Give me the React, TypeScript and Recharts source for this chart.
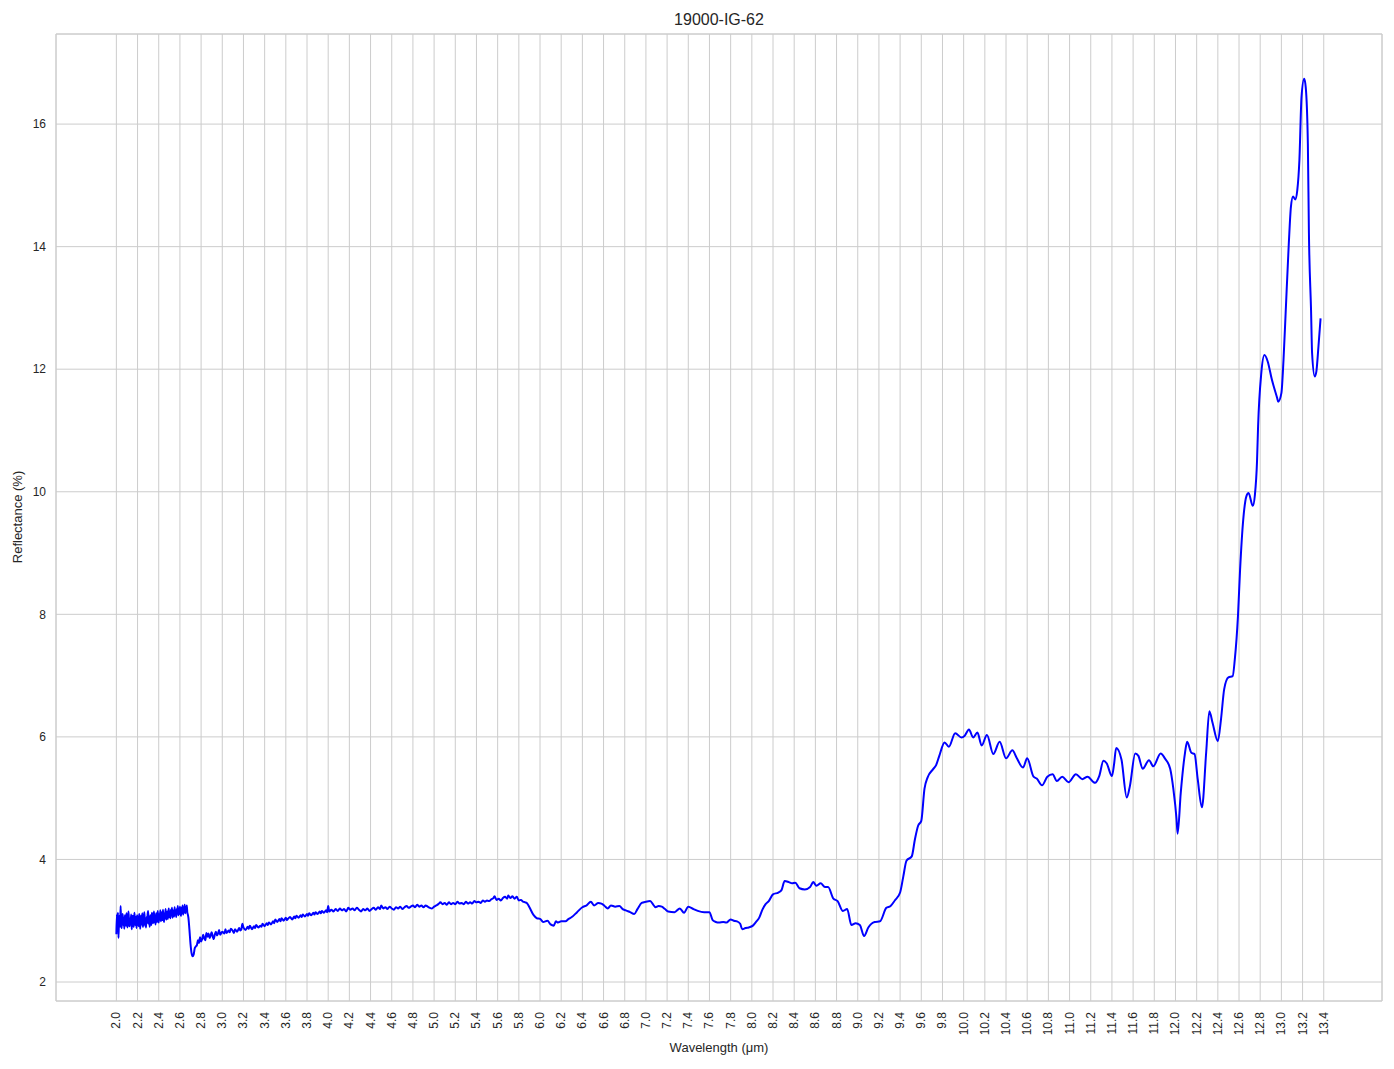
import React from 'react';
import { LineChart, Line, XAxis, YAxis, CartesianGrid, ReferenceArea } from 'recharts';

const TITLE = '19000-IG-62';
const X_LABEL = 'Wavelength (μm)';
const Y_LABEL = 'Reflectance (%)';

const xTicks = [
  2.0, 2.2, 2.4, 2.6, 2.8, 3.0, 3.2, 3.4, 3.6, 3.8, 4.0, 4.2, 4.4, 4.6, 4.8, 5.0, 5.2, 5.4, 5.6, 5.8,
  6.0, 6.2, 6.4, 6.6, 6.8, 7.0, 7.2, 7.4, 7.6, 7.8, 8.0, 8.2, 8.4, 8.6, 8.8, 9.0, 9.2, 9.4, 9.6, 9.8,
  10.0, 10.2, 10.4, 10.6, 10.8, 11.0, 11.2, 11.4, 11.6, 11.8, 12.0, 12.2, 12.4, 12.6, 12.8, 13.0, 13.2, 13.4,
];
const yTicks = [2, 4, 6, 8, 10, 12, 14, 16];

// noisy detector region, 2.000–2.750 µm
const segNoisy: [number, number][] = [
  [2.0, 2.78], [2.005, 3.1], [2.01, 2.95], [2.015, 3.13], [2.02, 2.72], [2.025, 3.02], [2.03, 3.08], [2.035, 2.9],
  [2.04, 3.24], [2.045, 2.96], [2.05, 2.88], [2.055, 3.06], [2.06, 3.11], [2.065, 2.93], [2.07, 3.03], [2.075, 2.87],
  [2.08, 3.09], [2.085, 3.01], [2.09, 2.92], [2.095, 3.12], [2.1, 2.98], [2.105, 2.89], [2.11, 3.07], [2.115, 3.15],
  [2.12, 2.94], [2.125, 2.91], [2.13, 3.04], [2.135, 2.97], [2.14, 3.1], [2.145, 2.86], [2.15, 3.05], [2.155, 3.08],
  [2.16, 2.95], [2.165, 2.9], [2.17, 3.13], [2.175, 3.02], [2.18, 2.93], [2.185, 3.06], [2.19, 2.88], [2.195, 3.09],
  [2.2, 3.03], [2.205, 2.96], [2.21, 2.91], [2.215, 3.11], [2.22, 3.05], [2.225, 2.87], [2.23, 3.01], [2.235, 3.08],
  [2.24, 2.94], [2.245, 3.12], [2.25, 2.9], [2.255, 2.98], [2.26, 3.07], [2.265, 3.14], [2.27, 2.92], [2.275, 3.03],
  [2.28, 2.89], [2.285, 3.06], [2.29, 2.96], [2.295, 3.1], [2.3, 3.16], [2.305, 2.95], [2.31, 3.02], [2.315, 2.9],
  [2.32, 3.09], [2.325, 3.04], [2.33, 2.93], [2.335, 3.13], [2.34, 3.07], [2.345, 2.96], [2.35, 3.01], [2.355, 3.15],
  [2.36, 2.97], [2.365, 3.08], [2.37, 2.94], [2.375, 3.12], [2.38, 3.03], [2.385, 2.98], [2.39, 3.16], [2.395, 3.05],
  [2.4, 2.97], [2.405, 3.11], [2.41, 3.02], [2.415, 3.17], [2.42, 2.99], [2.425, 3.08], [2.43, 3.14], [2.435, 3.01],
  [2.44, 3.18], [2.445, 3.04], [2.45, 2.98], [2.455, 3.12], [2.46, 3.07], [2.465, 3.19], [2.47, 3.02], [2.475, 3.1],
  [2.48, 3.15], [2.485, 3.03], [2.49, 3.11], [2.495, 3.2], [2.5, 3.06], [2.505, 3.13], [2.51, 3.04], [2.515, 3.18],
  [2.52, 3.09], [2.525, 3.21], [2.53, 3.05], [2.535, 3.12], [2.54, 3.17], [2.545, 3.07], [2.55, 3.22], [2.555, 3.1],
  [2.56, 3.15], [2.565, 3.06], [2.57, 3.19], [2.575, 3.12], [2.58, 3.24], [2.585, 3.09], [2.59, 3.17], [2.595, 3.11],
  [2.6, 3.23], [2.605, 3.14], [2.61, 3.08], [2.615, 3.21], [2.62, 3.13], [2.625, 3.25], [2.63, 3.1], [2.635, 3.19],
  [2.64, 3.15], [2.645, 3.26], [2.65, 3.12], [2.655, 3.22], [2.66, 3.17], [2.665, 3.25], [2.67, 3.13], [2.675, 3.1],
  [2.68, 3.05], [2.69, 2.85], [2.7, 2.62], [2.71, 2.47], [2.72, 2.42], [2.73, 2.45], [2.74, 2.55], [2.75, 2.58],
];

// gradually rising plateau, 2.76–4.01 µm
const segRise: [number, number][] = [
  [2.76, 2.6], [2.77, 2.68], [2.78, 2.64], [2.79, 2.73], [2.8, 2.66], [2.81, 2.7], [2.82, 2.77], [2.83, 2.71],
  [2.84, 2.68], [2.85, 2.8], [2.86, 2.74], [2.87, 2.79], [2.88, 2.72], [2.89, 2.76], [2.9, 2.81], [2.91, 2.74],
  [2.92, 2.7], [2.93, 2.78], [2.94, 2.82], [2.95, 2.76], [2.96, 2.79], [2.97, 2.85], [2.98, 2.77], [3.0, 2.82],
  [3.02, 2.79], [3.03, 2.86], [3.04, 2.8], [3.06, 2.84], [3.07, 2.81], [3.08, 2.87], [3.1, 2.83], [3.11, 2.8],
  [3.12, 2.86], [3.14, 2.82], [3.16, 2.88], [3.17, 2.84], [3.18, 2.86], [3.19, 2.95], [3.2, 2.89], [3.22, 2.85],
  [3.24, 2.9], [3.25, 2.87], [3.26, 2.92], [3.28, 2.86], [3.3, 2.91], [3.31, 2.88], [3.32, 2.93], [3.34, 2.89],
  [3.36, 2.92], [3.37, 2.9], [3.38, 2.95], [3.4, 2.91], [3.42, 2.96], [3.43, 2.93], [3.44, 2.97], [3.46, 2.94],
  [3.48, 2.99], [3.49, 2.96], [3.5, 3.02], [3.52, 2.98], [3.54, 3.03], [3.55, 2.99], [3.56, 3.04], [3.58, 3.0],
  [3.6, 3.05], [3.61, 3.01], [3.62, 3.03], [3.64, 3.06], [3.66, 3.02], [3.68, 3.07], [3.69, 3.04], [3.7, 3.08],
  [3.72, 3.05], [3.74, 3.09], [3.75, 3.06], [3.76, 3.1], [3.78, 3.07], [3.8, 3.11], [3.81, 3.08], [3.82, 3.12],
  [3.84, 3.09], [3.86, 3.13], [3.87, 3.1], [3.88, 3.14], [3.9, 3.11], [3.92, 3.15], [3.93, 3.12], [3.94, 3.16],
  [3.96, 3.13], [3.98, 3.17], [3.99, 3.14], [4.0, 3.24], [4.01, 3.15],
];

// flat plateau, 4.03–5.90 µm
const segPlateau: [number, number][] = [
  [4.03, 3.18], [4.05, 3.15], [4.07, 3.19], [4.09, 3.16], [4.11, 3.2], [4.13, 3.17], [4.15, 3.19], [4.17, 3.15],
  [4.19, 3.21], [4.21, 3.18], [4.23, 3.2], [4.25, 3.17], [4.27, 3.21], [4.29, 3.18], [4.31, 3.15], [4.33, 3.19],
  [4.35, 3.17], [4.37, 3.2], [4.39, 3.16], [4.41, 3.19], [4.43, 3.21], [4.45, 3.18], [4.47, 3.22], [4.49, 3.19],
  [4.5, 3.25], [4.52, 3.2], [4.54, 3.22], [4.56, 3.19], [4.58, 3.23], [4.6, 3.2], [4.62, 3.18], [4.64, 3.22],
  [4.66, 3.2], [4.68, 3.23], [4.7, 3.19], [4.72, 3.22], [4.74, 3.24], [4.76, 3.21], [4.78, 3.23], [4.8, 3.25],
  [4.82, 3.22], [4.84, 3.26], [4.86, 3.23], [4.88, 3.25], [4.9, 3.22], [4.92, 3.25], [4.94, 3.23], [4.96, 3.21],
  [4.98, 3.2], [5.0, 3.23], [5.02, 3.25], [5.04, 3.27], [5.06, 3.3], [5.08, 3.27], [5.1, 3.29], [5.12, 3.26],
  [5.14, 3.3], [5.16, 3.27], [5.18, 3.29], [5.2, 3.27], [5.22, 3.31], [5.24, 3.28], [5.26, 3.29], [5.28, 3.27],
  [5.3, 3.31], [5.32, 3.28], [5.34, 3.3], [5.36, 3.28], [5.38, 3.32], [5.4, 3.3], [5.42, 3.31], [5.44, 3.29],
  [5.46, 3.33], [5.48, 3.31], [5.5, 3.33], [5.52, 3.32], [5.54, 3.35], [5.56, 3.37], [5.57, 3.4], [5.59, 3.34],
  [5.61, 3.36], [5.63, 3.33], [5.65, 3.37], [5.67, 3.39], [5.69, 3.36], [5.7, 3.41], [5.72, 3.37], [5.74, 3.4],
  [5.76, 3.36], [5.78, 3.39], [5.8, 3.33], [5.82, 3.34], [5.84, 3.31], [5.86, 3.3], [5.88, 3.28], [5.9, 3.22],
];

// mid range, 5.94–9.40 µm
const segMid: [number, number][] = [
  [5.94, 3.09], [5.97, 3.04], [6.0, 3.03], [6.03, 2.98], [6.07, 3.0],
  [6.1, 2.94], [6.13, 2.92], [6.15, 2.99], [6.17, 2.97], [6.2, 2.99], [6.24, 2.99], [6.27, 3.03], [6.3, 3.06],
  [6.35, 3.14], [6.4, 3.22], [6.44, 3.25], [6.48, 3.31], [6.51, 3.25], [6.55, 3.29], [6.58, 3.28], [6.61, 3.24],
  [6.64, 3.2], [6.67, 3.25], [6.71, 3.23], [6.75, 3.24], [6.78, 3.19], [6.81, 3.17], [6.85, 3.14], [6.89, 3.11],
  [6.92, 3.19], [6.96, 3.29], [7.0, 3.31], [7.04, 3.32], [7.07, 3.26], [7.09, 3.22], [7.12, 3.24], [7.15, 3.23],
  [7.18, 3.19], [7.21, 3.15], [7.27, 3.14], [7.32, 3.2], [7.36, 3.13], [7.4, 3.23], [7.45, 3.19], [7.49, 3.16],
  [7.55, 3.14], [7.6, 3.14], [7.63, 3.01], [7.66, 2.98], [7.69, 2.97], [7.73, 2.98], [7.76, 2.97], [7.8, 3.02],
  [7.83, 3.0], [7.86, 2.99], [7.89, 2.95], [7.91, 2.86], [7.94, 2.88], [7.97, 2.89], [8.01, 2.92], [8.04, 2.98],
  [8.07, 3.05], [8.1, 3.18], [8.13, 3.27], [8.16, 3.32], [8.2, 3.43], [8.25, 3.46], [8.28, 3.5], [8.31, 3.65],
  [8.35, 3.63], [8.38, 3.61], [8.41, 3.62], [8.45, 3.53], [8.5, 3.51], [8.55, 3.55], [8.58, 3.63], [8.61, 3.57],
  [8.65, 3.61], [8.69, 3.55], [8.72, 3.55], [8.77, 3.36], [8.81, 3.32], [8.86, 3.16], [8.9, 3.19], [8.94, 2.93],
  [8.98, 2.96], [9.02, 2.93], [9.06, 2.75], [9.1, 2.89], [9.16, 2.98], [9.21, 2.99], [9.27, 3.21], [9.31, 3.24],
  [9.35, 3.33], [9.4, 3.46],
];

// long-wave region, 9.43–13.37 µm
const segLong: [number, number][] = [
  [9.43, 3.72], [9.46, 3.98], [9.51, 4.05], [9.54, 4.33], [9.57, 4.55], [9.6, 4.63], [9.63, 5.15], [9.66, 5.34],
  [9.71, 5.47], [9.74, 5.54], [9.77, 5.69], [9.82, 5.91], [9.86, 5.84], [9.92, 6.06], [9.98, 5.99], [10.01, 6.02],
  [10.05, 6.12], [10.09, 5.99], [10.13, 6.07], [10.17, 5.86], [10.22, 6.03], [10.28, 5.72], [10.34, 5.92], [10.4, 5.65],
  [10.46, 5.78], [10.5, 5.66], [10.56, 5.5], [10.6, 5.65], [10.66, 5.35], [10.69, 5.32], [10.74, 5.21], [10.79, 5.35],
  [10.84, 5.39], [10.88, 5.28], [10.93, 5.35], [10.99, 5.26], [11.06, 5.39], [11.12, 5.31], [11.17, 5.35], [11.24, 5.25],
  [11.28, 5.36], [11.32, 5.61], [11.35, 5.57], [11.4, 5.36], [11.42, 5.55], [11.44, 5.82], [11.49, 5.63], [11.54, 5.01],
  [11.57, 5.2], [11.62, 5.73], [11.65, 5.69], [11.69, 5.48], [11.75, 5.62], [11.79, 5.52], [11.86, 5.73], [11.9, 5.65],
  [11.95, 5.48], [11.98, 5.15], [12.01, 4.66], [12.02, 4.42], [12.05, 5.09], [12.09, 5.74], [12.11, 5.92], [12.15, 5.74],
  [12.18, 5.72], [12.21, 5.31], [12.25, 4.85], [12.29, 5.75], [12.32, 6.42], [12.35, 6.23], [12.4, 5.93], [12.43, 6.29],
  [12.46, 6.78], [12.5, 6.97], [12.54, 6.99], [12.56, 7.26], [12.59, 7.97], [12.61, 8.73], [12.64, 9.55], [12.67, 9.93],
  [12.69, 9.98], [12.73, 9.77], [12.75, 9.95], [12.77, 10.5], [12.78, 11.07], [12.81, 11.93], [12.84, 12.23], [12.87, 12.13],
  [12.91, 11.83], [12.96, 11.53], [12.97, 11.47], [13.0, 11.61], [13.02, 12.15], [13.04, 12.91], [13.07, 14.05], [13.09, 14.65],
  [13.11, 14.82], [13.13, 14.77], [13.15, 14.92], [13.17, 15.41], [13.19, 16.44], [13.215, 16.74], [13.23, 16.6], [13.25, 15.68],
  [13.26, 14.22], [13.28, 12.97], [13.29, 12.26], [13.315, 11.88], [13.33, 11.96], [13.35, 12.37], [13.37, 12.83],
];

const data = [...segNoisy, ...segRise, ...segPlateau, ...segMid, ...segLong].map(([x, y]) => ({ x, y }));

const X_DOMAIN: [number, number] = [1.43, 13.95];
const Y_DOMAIN: [number, number] = [1.69, 17.47];

const FONT = '"Liberation Sans", Arial, Helvetica, sans-serif';
const TEXT = '#262626';

const XTick = (props: any) => {
  const { x, y, payload } = props;
  return (
    <text
      x={x}
      y={y}
      transform={`rotate(-90, ${x}, ${y})`}
      textAnchor="end"
      dominantBaseline="central"
      fontSize={12}
      fontFamily={FONT}
      fill={TEXT}
    >
      {Number(payload.value).toFixed(1)}
    </text>
  );
};

export default function App() {
  return (
    <div
      style={{
        position: 'absolute',
        left: 0,
        top: 0,
        width: 1394,
        height: 1069,
        background: '#ffffff',
        fontFamily: FONT,
      }}
    >
      <LineChart width={1394} height={1069} data={data} margin={{ top: 34, right: 12, left: 0, bottom: 0 }}>
        <CartesianGrid stroke="#cccccc" strokeWidth={1} />
        <XAxis
          dataKey="x"
          type="number"
          domain={X_DOMAIN}
          ticks={xTicks}
          interval={0}
          allowDataOverflow
          height={68}
          axisLine={false}
          tickLine={false}
          tickSize={0}
          tickMargin={11}
          tick={<XTick />}
        />
        <YAxis
          type="number"
          domain={Y_DOMAIN}
          ticks={yTicks}
          allowDataOverflow
          width={56}
          axisLine={false}
          tickLine={false}
          tickSize={0}
          tickMargin={10}
          tick={{ fontSize: 12, fill: TEXT, fontFamily: FONT }}
        />
        <ReferenceArea
          x1={X_DOMAIN[0]}
          x2={X_DOMAIN[1]}
          y1={Y_DOMAIN[0]}
          y2={Y_DOMAIN[1]}
          fill="none"
          fillOpacity={0}
          stroke="#cccccc"
          strokeWidth={1}
          ifOverflow="visible"
        />
        <Line
          type="monotone"
          dataKey="y"
          stroke="#0000ff"
          strokeWidth={2}
          dot={false}
          activeDot={false}
          isAnimationActive={false}
        />
      </LineChart>
      <div
        style={{
          position: 'absolute',
          left: 56,
          width: 1326,
          top: 10,
          textAlign: 'center',
          fontSize: 16,
          color: TEXT,
          lineHeight: '20px',
        }}
      >
        {TITLE}
      </div>
      <div
        style={{
          position: 'absolute',
          left: 56,
          width: 1326,
          top: 1040,
          textAlign: 'center',
          fontSize: 13,
          color: TEXT,
          lineHeight: '16px',
        }}
      >
        {X_LABEL}
      </div>
      <div
        style={{
          position: 'absolute',
          left: 18,
          top: 517,
          transform: 'translate(-50%, -50%) rotate(-90deg)',
          whiteSpace: 'nowrap',
          fontSize: 13,
          color: TEXT,
          lineHeight: '16px',
        }}
      >
        {Y_LABEL}
      </div>
    </div>
  );
}
